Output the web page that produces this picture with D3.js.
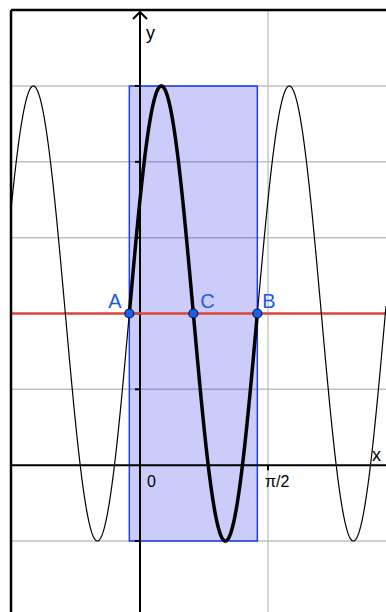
<!DOCTYPE html>
<html>
<head>
<meta charset="utf-8">
<script src="https://cdn.jsdelivr.net/npm/d3@7"></script>
<style>
  body { margin: 0; background: #fff; }
  svg { display: block; font-family: "Liberation Sans", Arial, sans-serif; }
</style>
</head>
<body>
<svg id="chart" width="386" height="612"></svg>
<script>
// f(x) = amp * sin(freq * x + phase) + offset
const amp = 3;
const freq = 4;
const phase = Math.PI / 6;
const offset = 2;

const gridX = [0, Math.PI / 2];
const gridY = [-1, 1, 2, 3, 4, 5];
const xTickValues = [Math.PI / 2];
const xTickLabels = ["π/2"];

const pointNames = ["A", "C", "B"];
const pointX = [-Math.PI / 24, 5 * Math.PI / 24, 11 * Math.PI / 24];

const f = v => amp * Math.sin(freq * v + phase) + offset;

const svg = d3.select("#chart");
const W = 386, H = 612;
const frameLeft = 11, frameTop = 10;

const x = d3.scaleLinear().domain([0, Math.PI / 2]).range([140, 268]);
const y = d3.scaleLinear().domain([-1, 5]).range([541, 86]);

svg.append("defs").append("clipPath").attr("id", "clip")
  .append("rect").attr("x", frameLeft).attr("y", frameTop)
  .attr("width", W - frameLeft).attr("height", H - frameTop);

const g = svg.append("g").attr("clip-path", "url(#clip)");

// grid
g.selectAll(".gx").data(gridX).enter().append("line")
  .attr("x1", d => x(d)).attr("x2", d => x(d))
  .attr("y1", frameTop).attr("y2", H)
  .attr("stroke", "#c8c8c8").attr("stroke-width", 1.5);
g.selectAll(".gy").data(gridY).enter().append("line")
  .attr("x1", frameLeft).attr("x2", W)
  .attr("y1", d => y(d)).attr("y2", d => y(d))
  .attr("stroke", "#c0c0c0").attr("stroke-width", 1.5);

// shaded rectangle one period wide
const xa = pointX[0], xb = pointX[2];
g.append("rect")
  .attr("x", x(xa)).attr("y", y(offset + amp))
  .attr("width", x(xb) - x(xa)).attr("height", y(offset - amp) - y(offset + amp))
  .attr("fill", "#0000e6").attr("fill-opacity", 0.2)
  .attr("stroke", "#1a3cf0").attr("stroke-width", 1.5);

// axes
g.append("line").attr("x1", frameLeft).attr("x2", W).attr("y1", y(0)).attr("y2", y(0))
  .attr("stroke", "#000").attr("stroke-width", 2);
g.append("line").attr("x1", x(0)).attr("x2", x(0)).attr("y1", frameTop + 2).attr("y2", H)
  .attr("stroke", "#000").attr("stroke-width", 2);
g.append("path")
  .attr("d", `M${x(0) - 7},${frameTop + 9}L${x(0)},${frameTop + 2}L${x(0) + 7},${frameTop + 9}`)
  .attr("fill", "none").attr("stroke", "#000").attr("stroke-width", 2);

g.selectAll(".ty").data(gridY).enter().append("line")
  .attr("x1", x(0) - 5).attr("x2", x(0))
  .attr("y1", d => y(d)).attr("y2", d => y(d))
  .attr("stroke", "#000").attr("stroke-width", 2);
g.selectAll(".tx").data(xTickValues).enter().append("line")
  .attr("x1", d => x(d)).attr("x2", d => x(d))
  .attr("y1", y(0)).attr("y2", y(0) + 5)
  .attr("stroke", "#000").attr("stroke-width", 2);

g.append("text").attr("x", x(0) + 6).attr("y", 39).attr("font-size", 18).text("y");
g.append("text").attr("x", 372).attr("y", 461).attr("font-size", 18).text("x");
g.append("text").attr("x", x(0) + 7).attr("y", 487).attr("font-size", 16).text("0");
g.selectAll(".lx").data(xTickValues).enter().append("text")
  .attr("x", d => x(d) - 3).attr("y", 487).attr("font-size", 16)
  .text((d, i) => xTickLabels[i]);

// horizontal line y = offset
g.append("line").attr("x1", frameLeft).attr("x2", W).attr("y1", y(offset)).attr("y2", y(offset))
  .attr("stroke", "#e0483c").attr("stroke-width", 2.5);

// curves
const line = d3.line().x(d => x(d)).y(d => y(f(d)));
const xMin = x.invert(frameLeft), xMax = x.invert(W);
g.append("path").datum(d3.range(xMin, xMax, (xMax - xMin) / 600).concat([xMax]))
  .attr("d", line).attr("fill", "none").attr("stroke", "#000").attr("stroke-width", 1.2);
g.append("path").datum(d3.range(xa, xb, (xb - xa) / 300).concat([xb]))
  .attr("d", line).attr("fill", "none").attr("stroke", "#000").attr("stroke-width", 3.5);

// points
g.selectAll(".pt").data(pointX).enter().append("circle")
  .attr("cx", d => x(d)).attr("cy", d => y(f(d))).attr("r", 4.5)
  .attr("fill", "#1a5ff0").attr("stroke", "#0a1a40").attr("stroke-width", 1.2);
const labelDx = [-21, 7, 5];
g.selectAll(".pl").data(pointX).enter().append("text")
  .attr("x", (d, i) => x(d) + labelDx[i]).attr("y", d => y(f(d)) - 6)
  .attr("font-size", 20).attr("fill", "#1a5ae8")
  .text((d, i) => pointNames[i]);

// frame
svg.append("line").attr("x1", frameLeft).attr("x2", W).attr("y1", frameTop).attr("y2", frameTop)
  .attr("stroke", "#000").attr("stroke-width", 2.5);
svg.append("line").attr("x1", frameLeft).attr("x2", frameLeft).attr("y1", frameTop).attr("y2", H)
  .attr("stroke", "#000").attr("stroke-width", 2.5);
</script>
</body>
</html>
